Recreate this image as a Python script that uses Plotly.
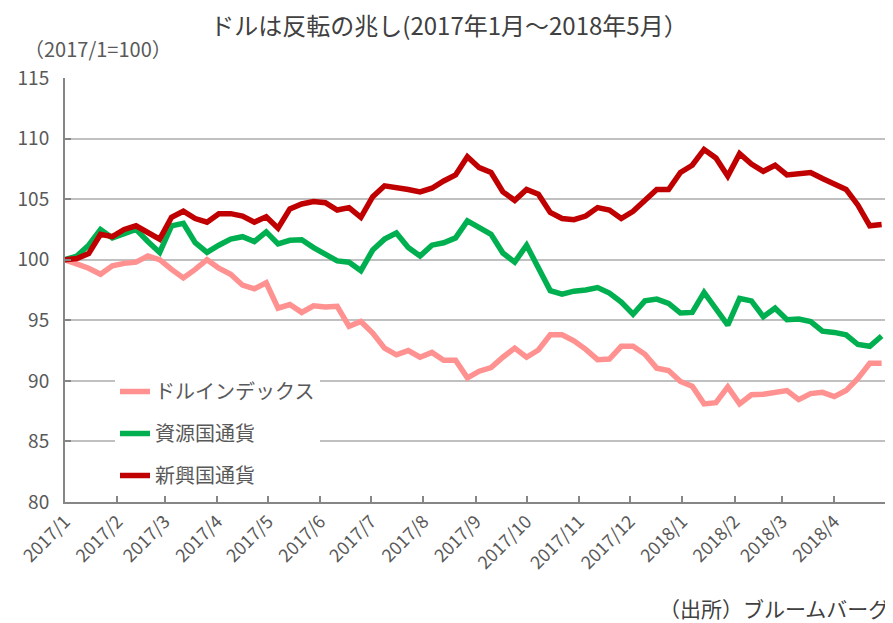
import pandas as pd
import plotly.graph_objects as go

start_date = "2017-01-01"
n_weeks = 70
dates = pd.date_range(start_date, periods=n_weeks, freq="7D")

dollar_index = [100.0, 99.7, 99.3, 98.8, 99.5, 99.7, 99.8, 100.3, 100.0, 99.2,
                98.5, 99.2, 100.0, 99.3, 98.8, 97.9, 97.6, 98.1, 96.0, 96.3,
                95.65, 96.2, 96.1, 96.15, 94.5, 94.9, 93.95, 92.7, 92.15, 92.5,
                91.95, 92.35, 91.7, 91.7, 90.25, 90.8, 91.1, 91.95, 92.7, 91.95,
                92.55, 93.8, 93.8, 93.3, 92.6, 91.75, 91.8, 92.85, 92.85, 92.2,
                91.05, 90.85, 89.95, 89.55, 88.1, 88.2, 89.5, 88.1, 88.85, 88.9,
                89.05, 89.2, 88.45, 88.95, 89.05, 88.7, 89.2, 90.2, 91.45, 91.45]

resource_ccy = [100.0, 100.3, 101.2, 102.5, 101.8, 102.2, 102.5, 101.5, 100.6, 102.8,
                103.0, 101.4, 100.6, 101.2, 101.7, 101.9, 101.5, 102.3, 101.3, 101.6,
                101.65, 101.0, 100.4, 99.9, 99.8, 99.1, 100.8, 101.7, 102.2, 101.0,
                100.3, 101.2, 101.4, 101.8, 103.2, 102.6, 102.1, 100.55, 99.8, 101.2,
                99.3, 97.45, 97.15, 97.4, 97.5, 97.7, 97.25, 96.5, 95.5, 96.6,
                96.75, 96.4, 95.6, 95.65, 97.3, 96.0, 94.6, 96.8, 96.6, 95.3,
                96.0, 95.05, 95.1, 94.9, 94.1, 94.0, 93.8, 93.0, 92.85, 93.7]

emerging_ccy = [100.0, 100.1, 100.5, 102.1, 101.9, 102.5, 102.8, 102.2, 101.7, 103.5,
                104.0, 103.4, 103.1, 103.8, 103.8, 103.6, 103.1, 103.55, 102.6, 104.2,
                104.6, 104.8, 104.7, 104.1, 104.3, 103.5, 105.2, 106.1, 106.0, 105.8,
                105.6, 105.9, 106.5, 107.0, 108.5, 107.6, 107.2, 105.6, 104.9, 105.8,
                105.4, 103.9, 103.4, 103.3, 103.6, 104.3, 104.1, 103.4, 104.0, 104.9,
                105.8, 105.8, 107.2, 107.8, 109.1, 108.4, 106.9, 108.75, 107.9, 107.3,
                107.8, 107.0, 107.1, 107.2, 106.7, 106.3, 105.8, 104.5, 102.8, 102.9]

series_names = ["ドルインデックス", "資源国通貨", "新興国通貨"]
series_colors = ["#FF9191", "#00B050", "#C00000"]

tick_dates = pd.date_range("2017-01-01", "2018-04-01", freq="MS")
tick_labels = [f"{d.year}/{d.month}" for d in tick_dates]
y_ticks = [80, 85, 90, 95, 100, 105, 110, 115]

num_font = "Liberation Sans Narrow, Noto Sans CJK JP, sans-serif"
jp_font = "Noto Sans CJK JP, sans-serif"

# page body has an 8px margin: the figure starts at (8, 8)
OFF = 8
W, H = 893 - OFF, 623 - OFF

fig = go.Figure()
for name, vals, col in zip(series_names, [dollar_index, resource_ccy, emerging_ccy], series_colors):
    fig.add_trace(go.Scatter(
        x=dates, y=vals, mode="lines", name=name, legendgroup=name,
        line=dict(color=col, width=5.5),
    ))

fig.update_layout(
    width=W, height=H,
    margin=dict(l=65 - OFF, r=8, t=78 - OFF, b=121, autoexpand=False),
    paper_bgcolor="white", plot_bgcolor="white",
    title=dict(text="ドルは反転の兆し(2017年1月～2018年5月）",
               x=(449 - 65) / 820, xref="paper", xanchor="center",
               y=1 - (27 - OFF) / H, yanchor="middle",
               font=dict(family=jp_font, size=24, color="#404040")),
    showlegend=True,
    legend=dict(x=0.061, y=(502 - 372) / 424, xanchor="left", yanchor="top",
                bgcolor="white", font=dict(family=jp_font, size=20, color="#595959"),
                tracegroupgap=13, itemwidth=30),
    xaxis=dict(type="date", range=["2017-01-01", "2018-05-01"],
               tickvals=list(tick_dates), ticktext=tick_labels, tickangle=-45,
               tickfont=dict(family=num_font, size=18, color="#595959"),
               showgrid=False, showline=True, linecolor="#868686", linewidth=2,
               ticks="inside", ticklen=6, tickcolor="#868686", tickwidth=1.5,
               zeroline=False, automargin=False),
    yaxis=dict(range=[80, 115], tickvals=y_ticks,
               tickfont=dict(family=num_font, size=19, color="#595959"),
               showgrid=True, gridcolor="#C0C0C0", gridwidth=2,
               showline=True, linecolor="#868686", linewidth=2,
               ticks="inside", ticklen=6, tickcolor="#868686", tickwidth=1.5,
               ticklabelstandoff=10,
               zeroline=False, automargin=False),
    annotations=[
        dict(text="（2017/1=100）", xref="paper", yref="paper",
             x=(22 - 65) / 820, y=(502 - 48) / 424, xanchor="left", yanchor="middle",
             showarrow=False, font=dict(family=num_font, size=20, color="#595959")),
        dict(text="（出所）ブルームバーグ", xref="paper", yref="paper",
             x=(891 - 65) / 820, y=(502 - 608) / 424, xanchor="right", yanchor="middle",
             showarrow=False, font=dict(family=jp_font, size=21, color="#404040")),
    ],
)

fig.write_html("out.html")
